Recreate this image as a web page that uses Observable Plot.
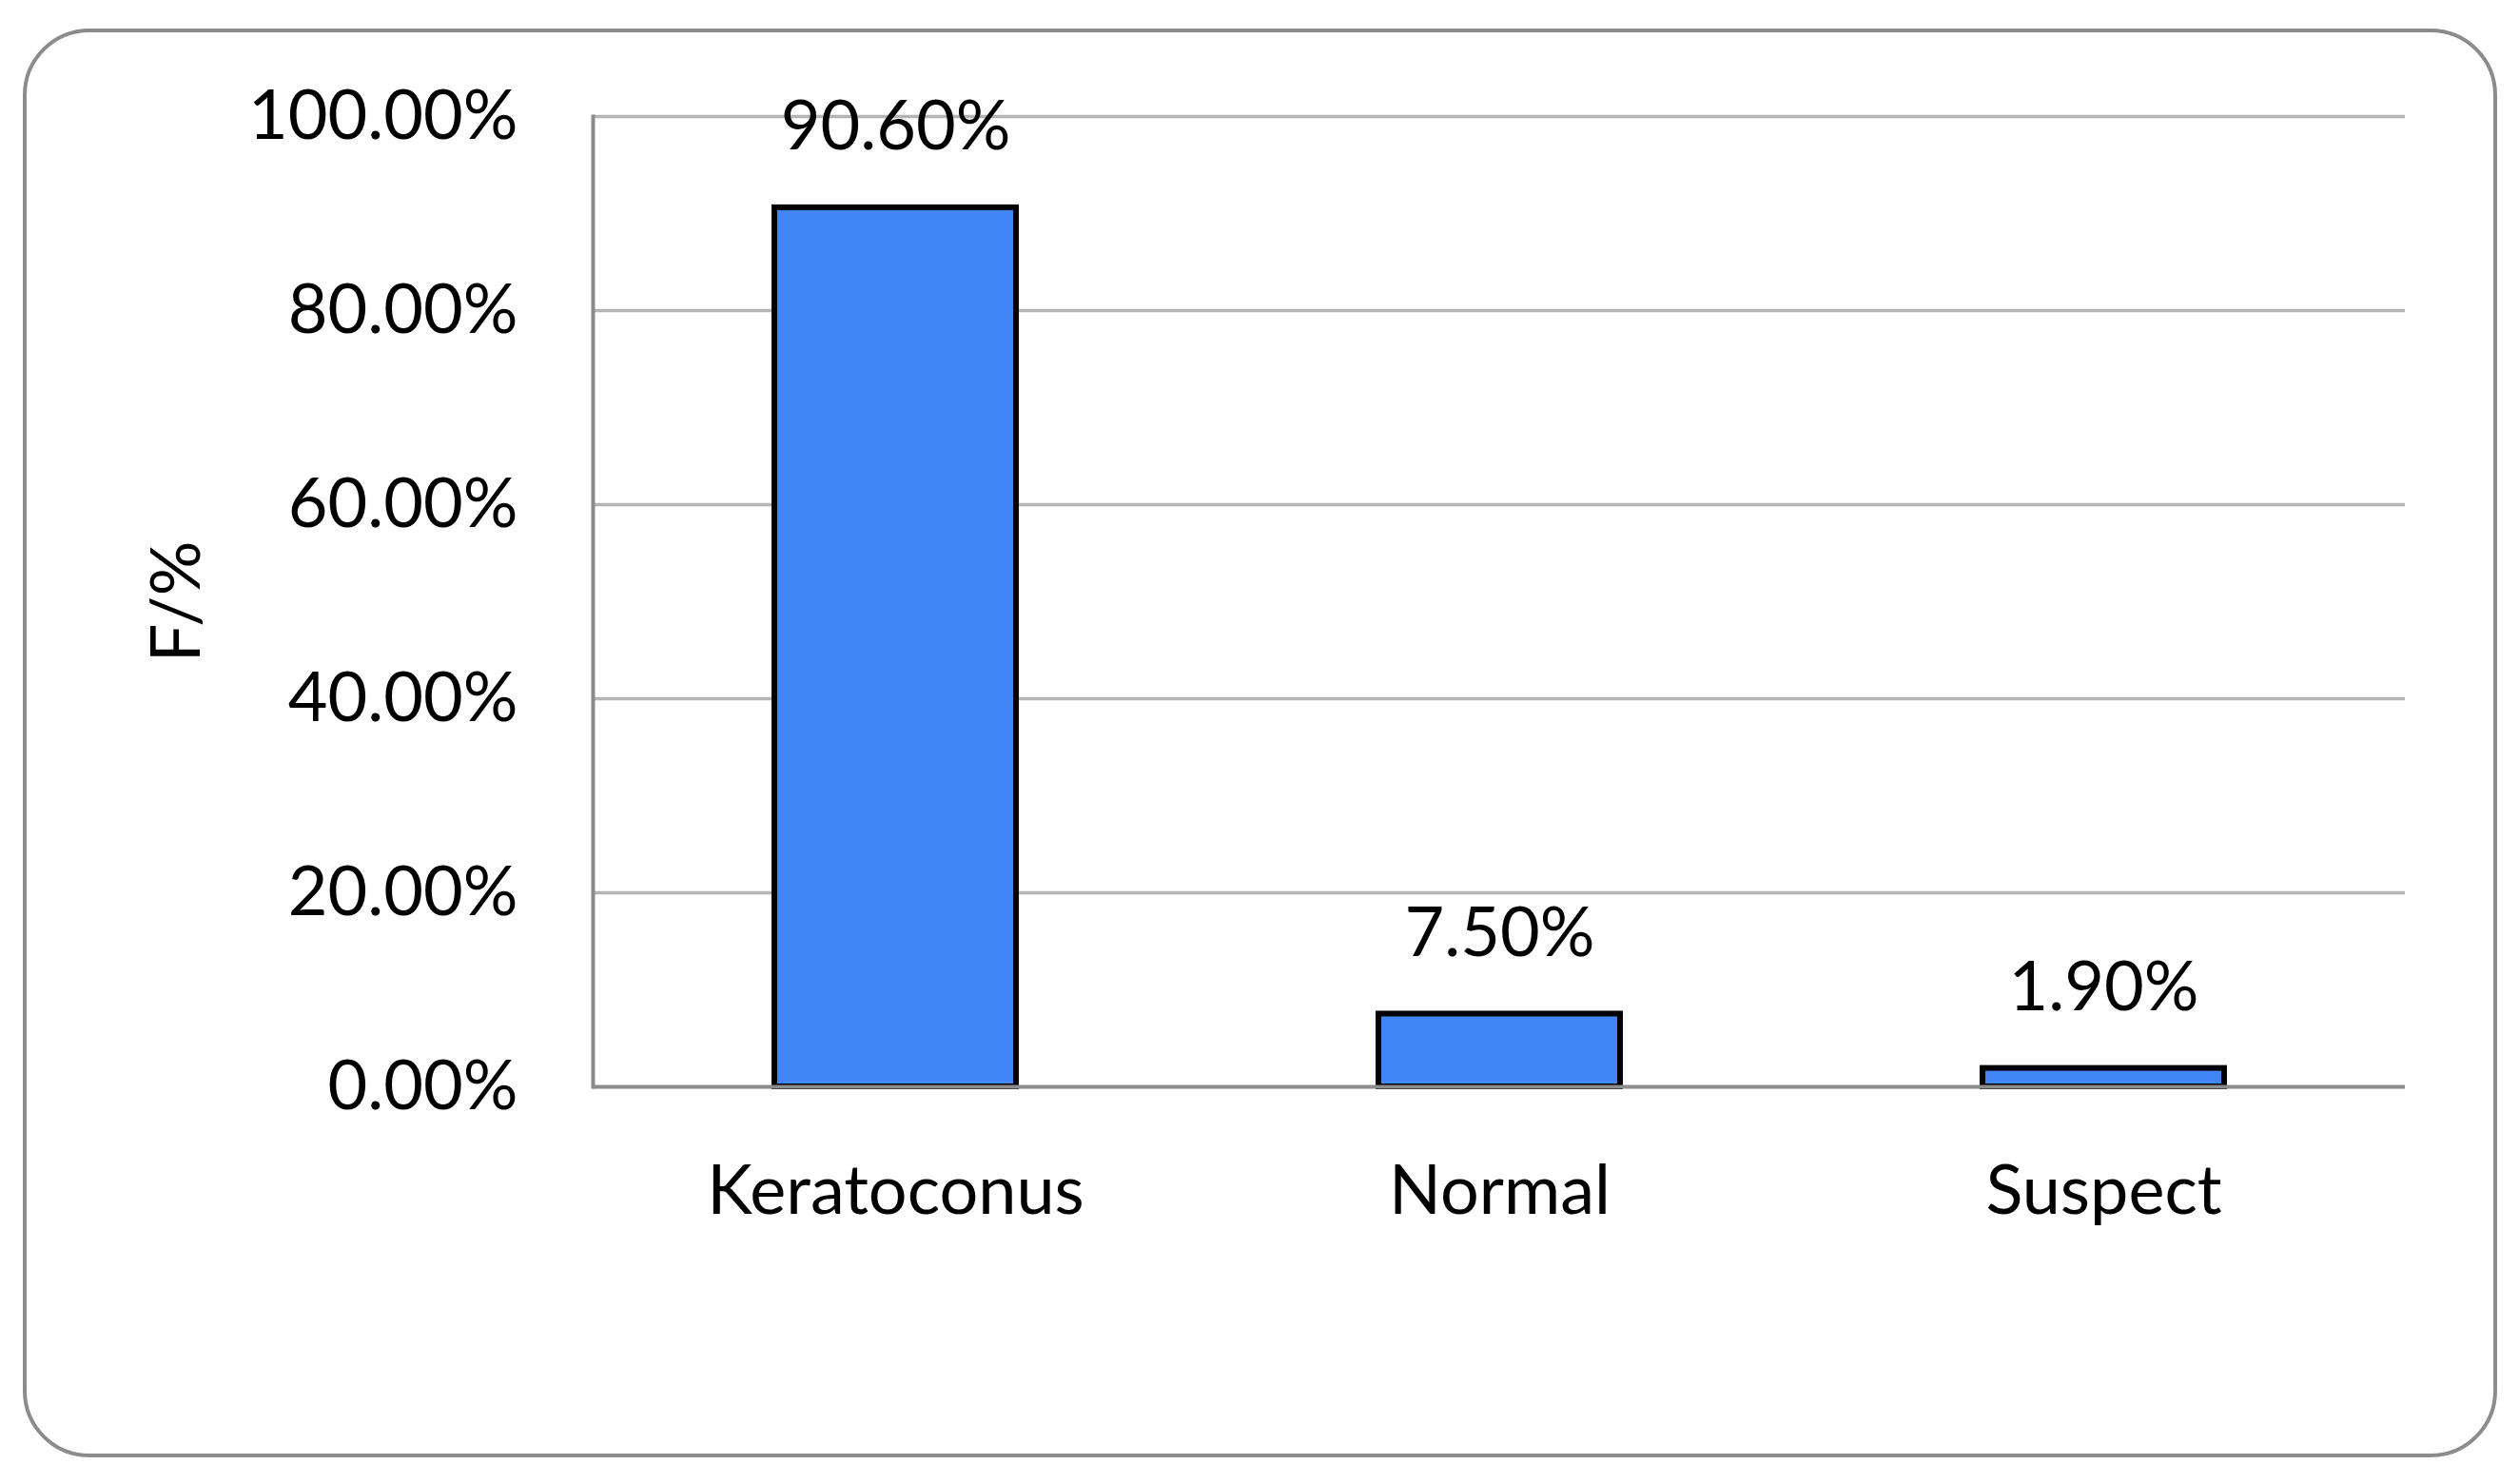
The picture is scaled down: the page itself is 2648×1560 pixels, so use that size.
<!DOCTYPE html>
<html>
<head>
<meta charset="utf-8">
<script src="https://cdn.jsdelivr.net/npm/d3@7"></script>
<script src="https://cdn.jsdelivr.net/npm/@observablehq/plot@0.6"></script>
<style>
  html, body { margin: 0; padding: 0; background: #fff; }
  #wrap { position: relative; width: 2648px; height: 1560px; }
  #border { position: absolute; left: 24px; top: 30px; width: 2593px; height: 1494px;
            border: 4px solid #8c8c8c; border-radius: 70px; pointer-events: none; }
  #chart { position: absolute; left: 0; top: 0; }
</style>
</head>
<body>
<div id="wrap"><div id="chart"></div><div id="border"></div></div>
<script>
const categories = ["Keratoconus", "Normal", "Suspect"];
const values = [0.906, 0.075, 0.019];
const yTicks = [0, 0.2, 0.4, 0.6, 0.8, 1.0];
const yLabel = "F/%";

const data = categories.map((c, i) => ({category: c, value: values[i]}));
const fmt = d3.format(".2%");

const chart = Plot.plot({
  width: 2648,
  height: 1560,
  marginLeft: 623,
  marginRight: 120,
  marginTop: 122,
  marginBottom: 418,
  style: {fontFamily: "Lato, 'Open Sans', sans-serif", fontSize: "72px", color: "#000", background: "transparent"},
  x: {domain: categories, paddingInner: 0.6, paddingOuter: 0.3, label: null},
  y: {domain: [0, 1], label: null},
  marks: [
    Plot.gridY(yTicks.filter(d => d > 0), {stroke: "#b4b4b4", strokeOpacity: 1, strokeWidth: 3.5}),
    Plot.axisY(yTicks, {tickSize: 0, tickPadding: 79, tickFormat: fmt, fontSize: 72, label: null}),
    Plot.axisX({tickSize: 0, tickPadding: 82, fontSize: 72, label: null}),
    Plot.frame({anchor: "left", stroke: "#8c8c8c", strokeWidth: 4}),
    Plot.barY(data, {x: "category", y: "value", fill: "#4285f4", stroke: "#000", strokeWidth: 6}),
    Plot.ruleY([0], {stroke: "#8c8c8c", strokeWidth: 4}),
    Plot.text(data, {x: "category", y: "value", text: d => fmt(d.value), dy: -61, lineAnchor: "bottom", fontSize: 72, fill: "#000"}),
    Plot.text([yLabel], {frameAnchor: "left", textAnchor: "middle", dx: -437, rotate: -90, fontSize: 72, fill: "#000"})
  ]
});
document.getElementById("chart").appendChild(chart);
</script>
</body>
</html>
